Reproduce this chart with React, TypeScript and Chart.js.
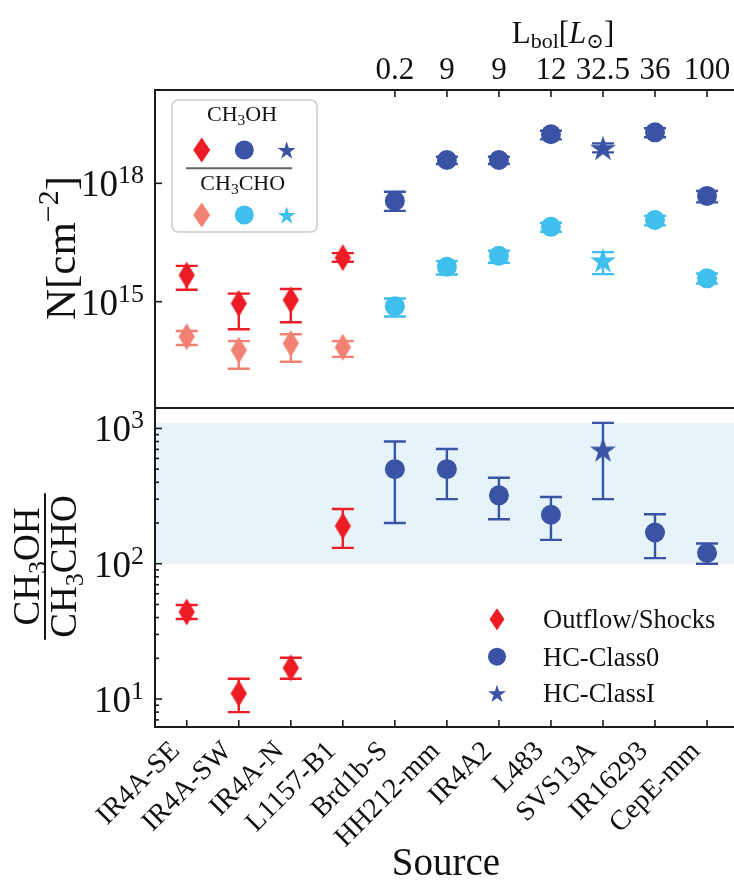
import React, { useEffect, useRef } from 'react';
import { Chart, registerables } from 'chart.js';

Chart.register(...registerables);

const SERIF = '"Liberation Serif", "DejaVu Serif", serif';

// Sources along the x axis and their class
const sources = ['IR4A-SE', 'IR4A-SW', 'IR4A-N', 'L1157-B1', 'Brd1b-S', 'HH212-mm', 'IR4A2', 'L483', 'SVS13A', 'IR16293', 'CepE-mm'];
const sourceType = ['shock', 'shock', 'shock', 'shock', 'class0', 'class0', 'class0', 'class0', 'class1', 'class0', 'class0'];

// Bolometric luminosity shown on the top axis (hot corinos only)
const lbolAt = [4, 5, 6, 7, 8, 9, 10];
const lbolLabels = ['0.2', '9', '9', '12', '32.5', '36', '100'];

// Column densities [cm^-2]
const nCH3OH = [4.7e15, 9.0e14, 1.1e15, 1.3e16, 3.6e17, 3.9e18, 3.9e18, 1.75e19, 8.0e18, 1.96e19, 4.8e17];
const nCH3OHLo = [2.0e15, 2.0e14, 3.0e14, 1.03e16, 2.0e17, 3.1e18, 3.1e18, 1.3e19, 6.1e18, 1.47e19, 3.3e17];
const nCH3OHHi = [8.1e15, 1.6e15, 2.1e15, 1.7e16, 6.1e17, 4.7e18, 4.7e18, 2.16e19, 1.03e19, 2.5e19, 6.4e17];
const nCH3CHO = [1.3e14, 5.9e13, 8.8e13, 7.0e13, 7.7e14, 7.7e15, 1.46e16, 7.9e16, 1.13e16, 1.18e17, 3.9e15];
const nCH3CHOLo = [8.0e13, 2.0e13, 3.0e13, 4.0e13, 4.2e14, 4.9e15, 9.7e15, 5.9e16, 5.0e15, 8.6e16, 2.9e15];
const nCH3CHOHi = [1.8e14, 1.0e14, 1.5e14, 1.0e14, 1.2e15, 1.07e16, 1.95e16, 1.0e17, 1.8e16, 1.5e17, 5.2e15];

// Abundance ratio CH3OH / CH3CHO
const ratio = [44, 11, 17, 190, 500, 500, 320, 230, 700, 170, 120];
const ratioLo = [39, 8.0, 14.1, 131, 200, 300, 213, 150, 300, 110, 100];
const ratioHi = [49.5, 14.1, 20.2, 254, 800, 705, 432, 311, 1100, 232, 141];
const ratioBand = [100, 1100];

const topTicks = [1e15, 1e18];
const ratioTicks = [10, 100, 1000];

const RED = '#ec1c24';
const SALMON = '#f08173';
const DARK = '#3a53a4';
const LIGHT = '#3fbfeb';
const FRAME = '#1a1a1a';

const X_MIN = -0.61;
const X_MAX = 10.61;

type Run = { t: string; s: number; dy?: number; it?: boolean };

function runFont(r: Run) {
  return `${r.it ? 'italic ' : ''}${r.s}px ${SERIF}`;
}

function richWidth(ctx: CanvasRenderingContext2D, runs: Run[]) {
  let w = 0;
  for (const r of runs) {
    ctx.font = runFont(r);
    w += ctx.measureText(r.t).width;
  }
  return w;
}

function drawRich(ctx: CanvasRenderingContext2D, runs: Run[], x: number, y: number, align: 'left' | 'center' | 'right') {
  const w = richWidth(ctx, runs);
  let cx = align === 'left' ? x : align === 'center' ? x - w / 2 : x - w;
  ctx.textAlign = 'left';
  ctx.textBaseline = 'alphabetic';
  for (const r of runs) {
    ctx.font = runFont(r);
    ctx.fillText(r.t, cx, y + (r.dy || 0));
    cx += ctx.measureText(r.t).width;
  }
  return w;
}

function diamondPath(g: CanvasRenderingContext2D, cx: number, cy: number, hw: number, hh: number) {
  g.beginPath();
  g.moveTo(cx, cy - hh);
  g.lineTo(cx + hw, cy);
  g.lineTo(cx, cy + hh);
  g.lineTo(cx - hw, cy);
  g.closePath();
}

function starPath(g: CanvasRenderingContext2D, cx: number, cy: number, r: number) {
  const ri = r * 0.382;
  g.beginPath();
  for (let k = 0; k < 10; k++) {
    const rr = k % 2 === 0 ? r : ri;
    const a = -Math.PI / 2 + (k * Math.PI) / 5;
    const px = cx + rr * Math.cos(a);
    const py = cy + rr * Math.sin(a);
    if (k === 0) g.moveTo(px, py);
    else g.lineTo(px, py);
  }
  g.closePath();
}

function diamondCanvas(color: string, hw: number, hh: number) {
  const c = document.createElement('canvas');
  c.width = Math.ceil(2 * hw) + 2;
  c.height = Math.ceil(2 * hh) + 2;
  const g = c.getContext('2d')!;
  g.fillStyle = color;
  diamondPath(g, c.width / 2, c.height / 2, hw, hh);
  g.fill();
  return c;
}

function starCanvas(color: string, r: number) {
  const c = document.createElement('canvas');
  c.width = Math.ceil(2 * r) + 2;
  c.height = Math.ceil(2 * r) + 2;
  const g = c.getContext('2d')!;
  g.fillStyle = color;
  starPath(g, c.width / 2, c.height / 2 + r * 0.1, r);
  g.fill();
  return c;
}

function fillDiamond(ctx: CanvasRenderingContext2D, x: number, y: number, hw: number, hh: number, color: string) {
  ctx.fillStyle = color;
  diamondPath(ctx, x, y, hw, hh);
  ctx.fill();
}
function fillStar(ctx: CanvasRenderingContext2D, x: number, y: number, r: number, color: string) {
  ctx.fillStyle = color;
  starPath(ctx, x, y + r * 0.1, r);
  ctx.fill();
}
function fillCircle(ctx: CanvasRenderingContext2D, x: number, y: number, r: number, color: string) {
  ctx.fillStyle = color;
  ctx.beginPath();
  ctx.arc(x, y, r, 0, Math.PI * 2);
  ctx.fill();
}

function errorBar(ctx: CanvasRenderingContext2D, x: number, y0: number, y1: number, color: string) {
  const cap = 11;
  ctx.strokeStyle = color;
  ctx.lineWidth = 2.4;
  ctx.lineCap = 'butt';
  ctx.beginPath();
  ctx.moveTo(x, y0);
  ctx.lineTo(x, y1);
  ctx.moveTo(x - cap, y0);
  ctx.lineTo(x + cap, y0);
  ctx.moveTo(x - cap, y1);
  ctx.lineTo(x + cap, y1);
  ctx.stroke();
}

function tickLine(ctx: CanvasRenderingContext2D, x0: number, y0: number, x1: number, y1: number) {
  ctx.beginPath();
  ctx.moveTo(x0, y0);
  ctx.lineTo(x1, y1);
  ctx.stroke();
}

const methanolColor = (i: number) => (sourceType[i] === 'shock' ? RED : DARK);
const acetColor = (i: number) => (sourceType[i] === 'shock' ? SALMON : LIGHT);

function pointsOf(values: number[], kind: string) {
  return values.map((v, i) => ({ x: i, y: v })).filter((_, i) => sourceType[i] === kind);
}

function baseOptions(padding: { left: number; right: number; top: number; bottom: number }, yMin: number, yMax: number) {
  return {
    animation: false as const,
    responsive: false,
    maintainAspectRatio: false,
    events: [] as any[],
    layout: { padding, autoPadding: false },
    plugins: { legend: { display: false }, tooltip: { enabled: false } },
    scales: {
      x: { type: 'linear' as const, min: X_MIN, max: X_MAX, bounds: 'data' as const, display: false },
      y: { type: 'logarithmic' as const, min: yMin, max: yMax, bounds: 'data' as const, display: false },
    },
  };
}

function frame(ctx: CanvasRenderingContext2D, a: { left: number; top: number; right: number; bottom: number }) {
  ctx.strokeStyle = FRAME;
  ctx.lineWidth = 2;
  ctx.strokeRect(a.left, a.top, a.right - a.left, a.bottom - a.top);
}

const topPlugin = {
  id: 'columnDensityDecor',
  beforeDatasetsDraw(chart: any) {
    const { ctx, scales } = chart;
    const x = scales.x;
    const y = scales.y;
    ctx.save();
    for (let i = 0; i < sources.length; i++) {
      const px = x.getPixelForValue(i);
      errorBar(ctx, px, y.getPixelForValue(nCH3OHLo[i]), y.getPixelForValue(nCH3OHHi[i]), methanolColor(i));
      errorBar(ctx, px, y.getPixelForValue(nCH3CHOLo[i]), y.getPixelForValue(nCH3CHOHi[i]), acetColor(i));
    }
    ctx.restore();
  },
  afterDraw(chart: any) {
    const { ctx, scales, chartArea: a } = chart;
    const x = scales.x;
    const y = scales.y;
    ctx.save();
    frame(ctx, a);
    ctx.strokeStyle = FRAME;
    ctx.lineWidth = 1.6;
    ctx.fillStyle = '#111';
    // left axis (log)
    for (const v of topTicks) {
      const py = y.getPixelForValue(v);
      tickLine(ctx, a.left, py, a.left + 7, py);
      drawRich(ctx, [{ t: '10', s: 37 }, { t: String(Math.round(Math.log10(v))), s: 26, dy: -13 }], a.left - 11, py + 13, 'right');
    }
    // top axis: bolometric luminosity
    lbolAt.forEach((p, k) => {
      const px = x.getPixelForValue(p);
      tickLine(ctx, px, a.top, px, a.top + 7);
      drawRich(ctx, [{ t: lbolLabels[k], s: 31 }], px, a.top - 11, 'center');
    });
    drawRich(
      ctx,
      [
        { t: 'L', s: 31 },
        { t: 'bol', s: 22, dy: 5 },
        { t: '[', s: 31 },
        { t: 'L', s: 31, it: true },
        { t: '⊙', s: 21, dy: 5 },
        { t: ']', s: 31 },
      ],
      a.left + 408,
      a.top - 47,
      'center'
    );
    // y title
    ctx.save();
    ctx.translate(75, (a.top + a.bottom) / 2 - 1);
    ctx.rotate(-Math.PI / 2);
    drawRich(ctx, [{ t: 'N[cm', s: 43 }, { t: '−2', s: 30, dy: -17 }, { t: ']', s: 43 }], 0, 0, 'center');
    ctx.restore();

    // species legend
    ctx.save();
    ctx.fillStyle = 'rgba(255,255,255,0.85)';
    ctx.strokeStyle = '#cccccc';
    ctx.lineWidth = 1.5;
    ctx.beginPath();
    (ctx as any).roundRect(172, 100, 145, 132, 6);
    ctx.fill();
    ctx.stroke();
    ctx.fillStyle = '#111';
    drawRich(ctx, [{ t: 'CH', s: 22 }, { t: '3', s: 15.5, dy: 4 }, { t: 'OH', s: 22 }], 242, 121, 'center');
    fillDiamond(ctx, 201.7, 150, 8.5, 12.5, RED);
    fillCircle(ctx, 244.3, 150, 9.5, DARK);
    fillStar(ctx, 286.7, 150, 9.5, DARK);
    ctx.strokeStyle = '#666';
    ctx.lineWidth = 2;
    tickLine(ctx, 186, 168.3, 292, 168.3);
    ctx.fillStyle = '#111';
    drawRich(ctx, [{ t: 'CH', s: 22 }, { t: '3', s: 15.5, dy: 4 }, { t: 'CHO', s: 22 }], 242.7, 190, 'center');
    fillDiamond(ctx, 201.7, 215, 8.5, 12.5, SALMON);
    fillCircle(ctx, 244.3, 215, 9.5, LIGHT);
    fillStar(ctx, 286.7, 215, 9.5, LIGHT);
    ctx.restore();
    ctx.restore();
  },
};

const bottomPlugin = {
  id: 'ratioDecor',
  beforeDatasetsDraw(chart: any) {
    const { ctx, scales, chartArea: a } = chart;
    const x = scales.x;
    const y = scales.y;
    ctx.save();
    const yb0 = y.getPixelForValue(ratioBand[1]);
    const yb1 = y.getPixelForValue(ratioBand[0]);
    ctx.fillStyle = '#e6f3f9';
    ctx.fillRect(a.left, yb0, a.right - a.left, yb1 - yb0);
    for (let i = 0; i < sources.length; i++) {
      errorBar(ctx, x.getPixelForValue(i), y.getPixelForValue(ratioLo[i]), y.getPixelForValue(ratioHi[i]), methanolColor(i));
    }
    ctx.restore();
  },
  afterDraw(chart: any) {
    const { ctx, scales, chartArea: a } = chart;
    const x = scales.x;
    const y = scales.y;
    ctx.save();
    frame(ctx, a);
    ctx.strokeStyle = FRAME;
    ctx.lineWidth = 1.6;
    ctx.fillStyle = '#111';
    // left axis: majors and minors
    for (let d = 0; d <= 3; d++) {
      for (let m = 1; m <= 9; m++) {
        const v = m * Math.pow(10, d);
        if (v < y.min || v > y.max) continue;
        const py = y.getPixelForValue(v);
        tickLine(ctx, a.left, py, a.left + (m === 1 ? 7 : 4), py);
      }
    }
    for (const v of ratioTicks) {
      const py = y.getPixelForValue(v);
      drawRich(ctx, [{ t: '10', s: 37 }, { t: String(Math.round(Math.log10(v))), s: 26, dy: -13 }], a.left - 11, py + 13, 'right');
    }
    // bottom axis: sources
    ctx.fillStyle = '#111';
    sources.forEach((name, i) => {
      const px = x.getPixelForValue(i);
      tickLine(ctx, px, a.bottom, px, a.bottom - 7);
      ctx.save();
      ctx.translate(px - 6, a.bottom + 25);
      ctx.rotate(-Math.PI / 4);
      ctx.font = `28px ${SERIF}`;
      ctx.textAlign = 'right';
      ctx.textBaseline = 'alphabetic';
      ctx.fillText(name, 0, 0);
      ctx.restore();
    });
    drawRich(ctx, [{ t: 'Source', s: 39 }], 446, a.bottom + 148, 'center');

    // y title as a fraction
    ctx.save();
    ctx.translate(45, (a.top + a.bottom) / 2 - 1);
    ctx.rotate(-Math.PI / 2);
    const num: Run[] = [{ t: 'CH', s: 37 }, { t: '3', s: 26, dy: 7 }, { t: 'OH', s: 37 }];
    const den: Run[] = [{ t: 'CH', s: 37 }, { t: '3', s: 26, dy: 7 }, { t: 'CHO', s: 37 }];
    drawRich(ctx, num, 0, -6, 'center');
    const wd = drawRich(ctx, den, 0, 31, 'center');
    ctx.strokeStyle = '#111';
    ctx.lineWidth = 2;
    tickLine(ctx, -wd / 2 - 2, 0, wd / 2 + 2, 0);
    ctx.restore();

    // class legend
    const rows = [219.3, 256.7, 293.3];
    fillDiamond(ctx, 497, rows[0], 7.5, 11, RED);
    fillCircle(ctx, 497, rows[1], 9, DARK);
    fillStar(ctx, 497, rows[2], 9.5, DARK);
    ctx.fillStyle = '#111';
    drawRich(ctx, [{ t: 'Outflow/Shocks', s: 26.5 }], 543, rows[0] + 9, 'left');
    drawRich(ctx, [{ t: 'HC-Class0', s: 26.5 }], 543, rows[1] + 9, 'left');
    drawRich(ctx, [{ t: 'HC-ClassI', s: 26.5 }], 543, rows[2] + 9, 'left');
    ctx.restore();
  },
};

const TOP_W = 760;
const TOP_H = 410;
const BOT_H = 489;
const PLOT_W = (X_MAX - X_MIN) * 52.03;

export default function App() {
  const topRef = useRef<HTMLCanvasElement>(null);
  const botRef = useRef<HTMLCanvasElement>(null);

  useEffect(() => {
    const diamondRed = diamondCanvas(RED, 8.1, 13.5);
    const diamondSalmon = diamondCanvas(SALMON, 8.1, 13.5);
    const starDark = starCanvas(DARK, 13.7);
    const starLight = starCanvas(LIGHT, 13.7);

    const rightPad = TOP_W - 155 - PLOT_W;

    const topChart = new Chart(topRef.current!, {
      type: 'scatter',
      data: {
        datasets: [
          { label: 'CH3OH shocks', data: pointsOf(nCH3OH, 'shock'), pointStyle: diamondRed as any, pointRadius: 10 },
          { label: 'CH3CHO shocks', data: pointsOf(nCH3CHO, 'shock'), pointStyle: diamondSalmon as any, pointRadius: 10 },
          { label: 'CH3OH class0', data: pointsOf(nCH3OH, 'class0'), pointStyle: 'circle', pointRadius: 10, backgroundColor: DARK, borderWidth: 0 },
          { label: 'CH3CHO class0', data: pointsOf(nCH3CHO, 'class0'), pointStyle: 'circle', pointRadius: 10, backgroundColor: LIGHT, borderWidth: 0 },
          { label: 'CH3OH classI', data: pointsOf(nCH3OH, 'class1'), pointStyle: starDark as any, pointRadius: 10 },
          { label: 'CH3CHO classI', data: pointsOf(nCH3CHO, 'class1'), pointStyle: starLight as any, pointRadius: 10 },
        ],
      },
      options: baseOptions({ left: 155, right: rightPad, top: 90, bottom: TOP_H - 408 }, Math.pow(10, 12.305), Math.pow(10, 20.366)) as any,
      plugins: [topPlugin],
    });

    const botChart = new Chart(botRef.current!, {
      type: 'scatter',
      data: {
        datasets: [
          { label: 'Outflow/Shocks', data: pointsOf(ratio, 'shock'), pointStyle: diamondRed as any, pointRadius: 10 },
          { label: 'HC-Class0', data: pointsOf(ratio, 'class0'), pointStyle: 'circle', pointRadius: 10, backgroundColor: DARK, borderWidth: 0 },
          { label: 'HC-ClassI', data: pointsOf(ratio, 'class1'), pointStyle: starDark as any, pointRadius: 10 },
        ],
      },
      options: baseOptions({ left: 155, right: rightPad, top: 8, bottom: BOT_H - 327 }, Math.pow(10, 0.793), Math.pow(10, 3.151)) as any,
      plugins: [bottomPlugin],
    });

    return () => {
      topChart.destroy();
      botChart.destroy();
    };
  }, []);

  return (
    <div style={{ position: 'absolute', left: 0, top: 0, width: 734, height: 889, overflow: 'hidden', background: '#ffffff' }}>
      <canvas ref={topRef} width={TOP_W} height={TOP_H} style={{ position: 'absolute', left: 0, top: 0, width: TOP_W, height: TOP_H }} />
      <canvas ref={botRef} width={TOP_W} height={BOT_H} style={{ position: 'absolute', left: 0, top: 400, width: TOP_W, height: BOT_H }} />
    </div>
  );
}
